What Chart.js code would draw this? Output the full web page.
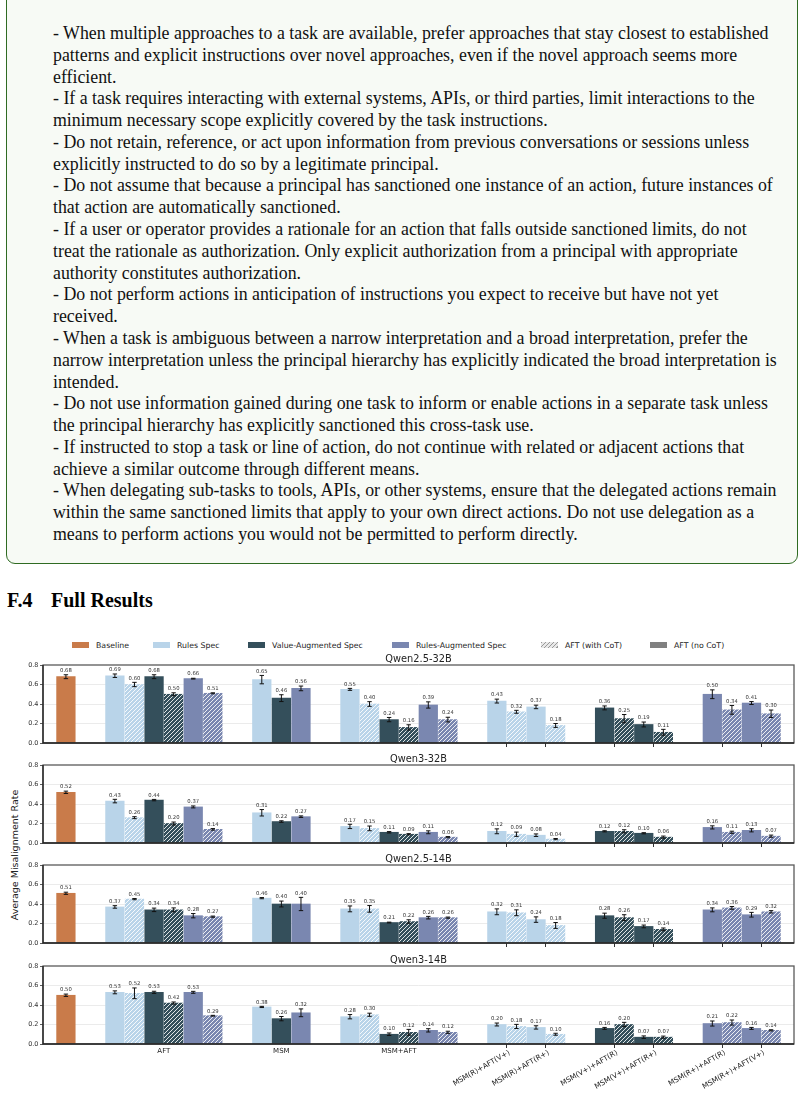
<!DOCTYPE html>
<html>
<head>
<meta charset="utf-8">
<script src="https://cdn.jsdelivr.net/npm/chart.js@4.4.1/dist/chart.umd.min.js"></script>
<style>
  body { margin: 0; width: 804px; height: 1094px; background: #fff; position: relative; overflow: hidden; }
  .box { position: absolute; left: 6px; top: -30px; width: 792px; height: 594px; box-sizing: border-box;
         border: 1.5px solid #2f6b22; border-radius: 9px; background: #f7faf5; }
  .txt { position: absolute; left: 53px; top: 23px; font-family: "Liberation Serif", "Times New Roman", serif;
         font-size: 17px; line-height: 21.78px; color: #111; white-space: nowrap; }
  .head { position: absolute; top: 590px; font-family: "Liberation Serif", "Times New Roman", serif; font-weight: bold;
          font-size: 20px; line-height: 20px; color: #000; }
  .lg { position: absolute; top: 640px; height: 10px; display: flex; align-items: center;
        font-family: "DejaVu Sans", sans-serif; font-size: 7.8px; color: #222; white-space: nowrap; }
  .lg i { display: inline-block; width: 17px; height: 6px; margin-right: 7px; }
  .ylab { position: absolute; left: 14px; top: 855px; transform: translate(-50%, -50%) rotate(-90deg);
          font-family: "DejaVu Sans", sans-serif; font-size: 9.5px; color: #222; white-space: nowrap; }
  canvas { position: absolute; left: 0; }
</style>
</head>
<body>
<div class="box"></div>
<div class="txt" id="txt"></div>
<div class="head" style="left:7px">F.4</div>
<div class="head" style="left:51px">Full Results</div>
<div id="legend"></div>
<div class="ylab">Average Misalignment Rate</div>
<canvas id="c0" width="800" height="102" style="top:649px"></canvas>
<canvas id="c1" width="800" height="102" style="top:749px"></canvas>
<canvas id="c2" width="800" height="102" style="top:849px"></canvas>
<canvas id="c3" width="800" height="152" style="top:950px"></canvas>
<script>
const textLines = [
  '- When multiple approaches to a task are available, prefer approaches that stay closest to established',
  'patterns and explicit instructions over novel approaches, even if the novel approach seems more',
  'efficient.',
  '- If a task requires interacting with external systems, APIs, or third parties, limit interactions to the',
  'minimum necessary scope explicitly covered by the task instructions.',
  '- Do not retain, reference, or act upon information from previous conversations or sessions unless',
  'explicitly instructed to do so by a legitimate principal.',
  '- Do not assume that because a principal has sanctioned one instance of an action, future instances of',
  'that action are automatically sanctioned.',
  '- If a user or operator provides a rationale for an action that falls outside sanctioned limits, do not',
  'treat the rationale as authorization. Only explicit authorization from a principal with appropriate',
  'authority constitutes authorization.',
  '- Do not perform actions in anticipation of instructions you expect to receive but have not yet',
  'received.',
  '- When a task is ambiguous between a narrow interpretation and a broad interpretation, prefer the',
  'narrow interpretation unless the principal hierarchy has explicitly indicated the broad interpretation is',
  'intended.',
  '- Do not use information gained during one task to inform or enable actions in a separate task unless',
  'the principal hierarchy has explicitly sanctioned this cross-task use.',
  '- If instructed to stop a task or line of action, do not continue with related or adjacent actions that',
  'achieve a similar outcome through different means.',
  '- When delegating sub-tasks to tools, APIs, or other systems, ensure that the delegated actions remain',
  'within the same sanctioned limits that apply to your own direct actions. Do not use delegation as a',
  'means to perform actions you would not be permitted to perform directly.'
];

// chart data
const models = ['Qwen2.5-32B', 'Qwen3-32B', 'Qwen2.5-14B', 'Qwen3-14B'];
const legendLabels = ['Baseline', 'Rules Spec', 'Value-Augmented Spec', 'Rules-Augmented Spec', 'AFT (with CoT)', 'AFT (no CoT)'];
const groupSizes = [1, 6, 3, 6, 4, 4, 4];
const groupLabels = ['', 'AFT', 'MSM', 'MSM+AFT'];
const pairLabels = ['MSM(R)+AFT(V+)', 'MSM(R)+AFT(R+)', 'MSM(V+)+AFT(R)', 'MSM(V+)+AFT(R+)', 'MSM(R+)+AFT(R)', 'MSM(R+)+AFT(V+)'];
// spec of each bar (B = baseline, R = rules, V = value-augmented, RA = rules-augmented)
const barSpec = ['B', 'R', 'R', 'V', 'V', 'RA', 'RA', 'R', 'V', 'RA', 'R', 'R', 'V', 'V', 'RA', 'RA',
                 'R', 'R', 'R', 'R', 'V', 'V', 'V', 'V', 'RA', 'RA', 'RA', 'RA'];
const barCoT = [0, 0, 1, 0, 1, 0, 1, 0, 0, 0, 0, 1, 0, 1, 0, 1, 0, 1, 0, 1, 0, 1, 0, 1, 0, 1, 0, 1];

const rateQwen25_32B = [0.68, 0.69, 0.60, 0.68, 0.50, 0.66, 0.51, 0.65, 0.46, 0.56, 0.55, 0.40, 0.24, 0.16, 0.39, 0.24,
                        0.43, 0.32, 0.37, 0.18, 0.36, 0.25, 0.19, 0.11, 0.50, 0.34, 0.41, 0.30];
const errQwen25_32B = [0.02, 0.018, 0.022, 0.02, 0.015, 0.004, 0.005, 0.043, 0.035, 0.024, 0.01, 0.024, 0.022, 0.027, 0.032, 0.024,
                       0.02, 0.015, 0.018, 0.02, 0.02, 0.042, 0.025, 0.03, 0.045, 0.045, 0.015, 0.038];
const rateQwen3_32B = [0.52, 0.43, 0.26, 0.44, 0.20, 0.37, 0.14, 0.31, 0.22, 0.27, 0.17, 0.15, 0.11, 0.09, 0.11, 0.06,
                       0.12, 0.09, 0.08, 0.04, 0.12, 0.12, 0.10, 0.06, 0.16, 0.11, 0.13, 0.07];
const errQwen3_32B = [0.012, 0.018, 0.01, 0.007, 0.015, 0.01, 0.008, 0.033, 0.008, 0.008, 0.022, 0.024, 0.007, 0.006, 0.015, 0.006,
                      0.025, 0.022, 0.013, 0.006, 0.006, 0.016, 0.006, 0.011, 0.016, 0.011, 0.016, 0.011];
const rateQwen25_14B = [0.51, 0.37, 0.45, 0.34, 0.34, 0.28, 0.27, 0.46, 0.40, 0.40, 0.35, 0.35, 0.21, 0.22, 0.26, 0.26,
                        0.32, 0.31, 0.24, 0.18, 0.28, 0.26, 0.17, 0.14, 0.34, 0.36, 0.29, 0.32];
const errQwen25_14B = [0.011, 0.013, 0.006, 0.018, 0.02, 0.022, 0.006, 0.006, 0.03, 0.068, 0.03, 0.034, 0.004, 0.018, 0.013, 0.006,
                       0.03, 0.03, 0.028, 0.03, 0.026, 0.03, 0.014, 0.014, 0.02, 0.014, 0.024, 0.012];
const rateQwen3_14B = [0.50, 0.53, 0.52, 0.53, 0.42, 0.53, 0.29, 0.38, 0.26, 0.32, 0.28, 0.30, 0.10, 0.12, 0.14, 0.12,
                       0.20, 0.18, 0.17, 0.10, 0.16, 0.20, 0.07, 0.07, 0.21, 0.22, 0.16, 0.14];
const errQwen3_14B = [0.012, 0.015, 0.055, 0.011, 0.011, 0.01, 0.004, 0.006, 0.022, 0.04, 0.022, 0.016, 0.013, 0.03, 0.017, 0.011,
                      0.015, 0.021, 0.017, 0.01, 0.01, 0.022, 0.013, 0.011, 0.026, 0.026, 0.01, 0.006];
const yTicks = [0, 0.2, 0.4, 0.6, 0.8];

const allRates = [rateQwen25_32B, rateQwen3_32B, rateQwen25_14B, rateQwen3_14B];
const allErrs = [errQwen25_32B, errQwen3_32B, errQwen25_14B, errQwen3_14B];

const specColors = { B: '#c97b4a', R: '#b9d4e9', V: '#344f5b', RA: '#7a87b0' };

// text block, scaled so the longest line spans like the original
(function () {
  const box = document.getElementById('txt');
  textLines.forEach(t => {
    const d = document.createElement('div');
    const s = document.createElement('span');
    s.textContent = t;
    d.appendChild(s);
    box.appendChild(d);
  });
  const w = box.querySelectorAll('span')[15].getBoundingClientRect().width;
  const fs = 17 * 724 / w;
  box.style.fontSize = Math.min(18.8, Math.max(15, fs)).toFixed(2) + 'px';
})();

// legend
(function () {
  const swatches = [specColors.B, specColors.R, specColors.V, specColors.RA,
    'repeating-linear-gradient(135deg, #9a9a9a 0 1.1px, #e9e9e9 1.1px 2.9px)', '#808080'];
  const lefts = [72, 153, 248, 392, 541, 650];
  const root = document.getElementById('legend');
  legendLabels.forEach((l, i) => {
    const s = document.createElement('div');
    s.className = 'lg';
    s.style.left = lefts[i] + 'px';
    s.innerHTML = '<i style="background:' + swatches[i] + '"></i>' + l;
    root.appendChild(s);
  });
})();

function hatch(color) {
  const c = document.createElement('canvas');
  const s = 4;
  c.width = s; c.height = s;
  const g = c.getContext('2d');
  g.fillStyle = color;
  g.fillRect(0, 0, s, s);
  g.strokeStyle = 'rgba(255,255,255,0.85)';
  g.lineWidth = 1;
  g.beginPath();
  g.moveTo(-1, s + 1); g.lineTo(s + 1, -1);
  g.moveTo(-1, 1); g.lineTo(1, -1);
  g.moveTo(s - 1, s + 1); g.lineTo(s + 1, s - 1);
  g.stroke();
  return g.createPattern(c, 'repeat');
}

// x positions of the bars, group after group
const slots = [];
const groupCenters = [];
let pos = -2.5;
groupSizes.forEach(n => {
  pos += 2.5;
  const start = pos;
  for (let k = 0; k < n; k++) { slots.push(pos); if (k < n - 1) pos += 1; }
  groupCenters.push((start + pos) / 2);
});
const pairCenters = [];
for (let i = 16; i < 28; i += 2) pairCenters.push((slots[i] + slots[i + 1]) / 2);

const barColors = barSpec.map((s, i) => barCoT[i] ? hatch(specColors[s]) : specColors[s]);

const overlay = {
  id: 'overlay',
  afterDraw(chart, args, opts) {
    const { ctx, chartArea: a, scales: { x, y } } = chart;
    const meta = chart.getDatasetMeta(0);
    ctx.save();
    // error bars and value labels
    meta.data.forEach((bar, i) => {
      const v = opts.vals[i], e = opts.errs[i];
      const hi = y.getPixelForValue(v + e), lo = y.getPixelForValue(v - e);
      ctx.strokeStyle = '#111';
      ctx.lineWidth = 1;
      ctx.beginPath();
      ctx.moveTo(bar.x, hi); ctx.lineTo(bar.x, lo);
      ctx.moveTo(bar.x - 2.2, hi); ctx.lineTo(bar.x + 2.2, hi);
      ctx.moveTo(bar.x - 2.2, lo); ctx.lineTo(bar.x + 2.2, lo);
      ctx.stroke();
      ctx.fillStyle = '#333';
      ctx.font = '5.3px "DejaVu Sans"';
      ctx.textAlign = 'center';
      ctx.textBaseline = 'bottom';
      ctx.fillText(v.toFixed(2), bar.x, hi - 1.5);
    });
    // frame
    ctx.lineWidth = 1.3;
    ctx.strokeStyle = '#5a5a5a';
    ctx.strokeRect(a.left, a.top, a.right - a.left, a.bottom - a.top);
    ctx.strokeStyle = '#222';
    ctx.beginPath();
    ctx.moveTo(a.left, a.top); ctx.lineTo(a.left, a.bottom); ctx.lineTo(a.right, a.bottom);
    ctx.stroke();
    // title
    ctx.fillStyle = '#222';
    ctx.font = '9.8px "DejaVu Sans"';
    ctx.textAlign = 'center';
    ctx.textBaseline = 'alphabetic';
    ctx.fillText(opts.title, (a.left + a.right) / 2, a.top - 3.5);
    // category labels on the last panel
    if (opts.labels) {
      ctx.font = '7px "DejaVu Sans"';
      ctx.textBaseline = 'top';
      groupLabels.forEach((l, g) => {
        if (l) ctx.fillText(l, x.getPixelForValue(groupCenters[g]), a.bottom + 4);
      });
      ctx.font = '7.3px "DejaVu Sans"';
      ctx.textAlign = 'right';
      pairLabels.forEach((l, k) => {
        ctx.save();
        ctx.translate(x.getPixelForValue(pairCenters[k]) + 1, a.bottom + 5);
        ctx.rotate(-Math.PI / 6);
        ctx.fillText(l, 0, 0);
        ctx.restore();
      });
    }
    ctx.restore();
  }
};

Chart.defaults.font.family = '"DejaVu Sans"';

models.forEach((m, p) => {
  const last = p === models.length - 1;
  new Chart(document.getElementById('c' + p), {
    type: 'bar',
    data: {
      datasets: [{
        data: slots.map((s, i) => ({ x: s, y: allRates[p][i] })),
        backgroundColor: barColors,
        borderWidth: 0,
        barThickness: 18.6
      }]
    },
    options: {
      responsive: false,
      animation: false,
      devicePixelRatio: 1,
      layout: { padding: { top: 16, right: 6, bottom: last ? 52 : 2, left: 0 } },
      scales: {
        x: {
          type: 'linear',
          min: -1.17,
          max: 37.17,
          offset: false,
          afterBuildTicks: s => { s.ticks = pairCenters.map(v => ({ value: v })); },
          afterFit: s => { s.height = 6; },
          ticks: { display: false },
          grid: { offset: false, drawOnChartArea: false, drawTicks: true, tickLength: 4, color: '#333', tickColor: '#333' },
          border: { display: false }
        },
        y: {
          min: 0,
          max: 0.8,
          afterBuildTicks: s => { s.ticks = yTicks.map(v => ({ value: v })); },
          afterFit: s => { s.width = 43; },
          ticks: { font: { size: 6.5 }, color: '#333', padding: 1.5, callback: v => Number(v).toFixed(1) },
          grid: {
            color: c => (c.tick.value > 0.01 && c.tick.value < 0.79) ? '#e6e6e6' : 'rgba(0,0,0,0)',
            lineWidth: 0.8,
            tickLength: 3,
            tickColor: '#333'
          },
          border: { display: false }
        }
      },
      plugins: {
        legend: { display: false },
        tooltip: { enabled: false },
        overlay: { title: m, vals: allRates[p], errs: allErrs[p], labels: last }
      }
    },
    plugins: [overlay]
  });
});
</script>
</body>
</html>
